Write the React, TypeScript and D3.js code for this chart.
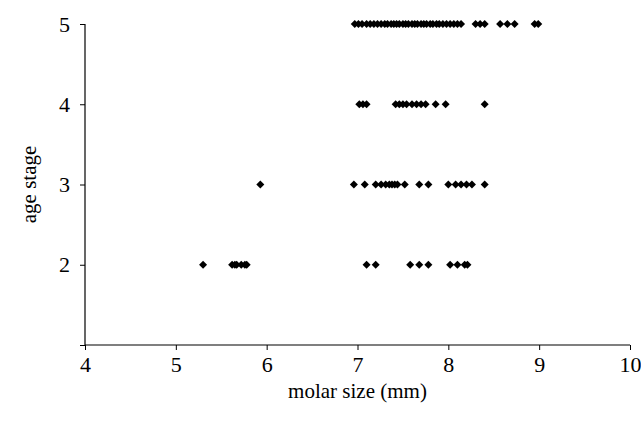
import { useEffect, useRef } from 'react';
import * as d3 from 'd3';

// molar size (mm) per age stage
const stage2 = [5.3, 5.62, 5.65, 5.67, 5.72, 5.76, 5.78, 7.1, 7.2, 7.58, 7.68, 7.78, 8.02, 8.1, 8.18, 8.21];
const stage3 = [5.93, 6.96, 7.08, 7.2, 7.26, 7.31, 7.35, 7.38, 7.41, 7.44, 7.52, 7.68, 7.78, 8.0, 8.08, 8.14, 8.2, 8.26, 8.4];
const stage4 = [7.02, 7.06, 7.1, 7.42, 7.46, 7.5, 7.54, 7.6, 7.65, 7.7, 7.75, 7.86, 7.97, 8.4];
const stage5 = [
  6.97, 7.01, 7.05, 7.1, 7.14, 7.18, 7.22, 7.26, 7.3, 7.33, 7.37, 7.4, 7.43, 7.46, 7.5, 7.53,
  7.56, 7.6, 7.63, 7.66, 7.7, 7.73, 7.76, 7.8, 7.83, 7.87, 7.9, 7.94, 7.98, 8.02, 8.06, 8.1,
  8.14, 8.3, 8.35, 8.4, 8.57, 8.65, 8.73, 8.95, 8.99,
];
const stages = [2, 3, 4, 5];
const series = [stage2, stage3, stage4, stage5];
const xTicks = [4, 5, 6, 7, 8, 9, 10];
const yTicks = [1, 2, 3, 4, 5];

const App = () => {
  const svgRef = useRef<SVGSVGElement>(null);

  useEffect(() => {
    const width = 641;
    const height = 421;
    const margin = { left: 85, right: 11, top: 24, bottom: 76 };

    const svg = d3.select(svgRef.current);
    svg.selectAll('*').remove();
    svg.attr('width', width).attr('height', height);

    const x = d3.scaleLinear().domain([4, 10]).range([margin.left, width - margin.right]);
    const y = d3.scaleLinear().domain([1, 5]).range([height - margin.bottom, margin.top]);

    const font = '"Liberation Serif", "Times New Roman", serif';

    const xAxis = svg.append('g')
      .attr('transform', `translate(0,${y(1)})`)
      .call(d3.axisBottom(x).tickValues(xTicks).tickSize(5).tickPadding(6).tickFormat(d3.format('d')));
    const yAxis = svg.append('g')
      .attr('transform', `translate(${x(4)},0)`)
      .call(d3.axisLeft(y).tickValues(yTicks).tickSize(5).tickPadding(10)
        .tickFormat(d => (d === 1 ? '' : String(d))));

    [xAxis, yAxis].forEach(a => {
      a.attr('font-family', font).attr('font-size', 22);
      a.select('.domain').attr('stroke', '#000').attr('stroke-width', 1.2);
      a.selectAll('.tick line').attr('stroke', '#000');
      a.selectAll('.tick text').attr('fill', '#000');
    });
    xAxis.select('.domain').attr('d', `M${x(4)},0H${x(10)}`);
    yAxis.select('.domain').attr('d', `M0,${y(5)}V${y(1)}`);

    // square turned 45 degrees, as in the spreadsheet marker
    const diamond = d3.symbol().type(d3.symbolSquare).size(32);

    const points = series.flatMap((vals, i) => vals.map(v => ({ v, s: stages[i] })));
    svg.append('g')
      .selectAll('path')
      .data(points)
      .enter()
      .append('path')
      .attr('d', diamond)
      .attr('fill', '#000')
      .attr('transform', d => `translate(${x(d.v)},${y(d.s)}) rotate(45)`);

    svg.append('text')
      .attr('x', (x(4) + x(10)) / 2)
      .attr('y', 398)
      .attr('text-anchor', 'middle')
      .attr('font-family', font)
      .attr('font-size', 21)
      .attr('fill', '#000')
      .text('molar size (mm)');

    svg.append('text')
      .attr('transform', `translate(36,${(y(1) + y(5)) / 2}) rotate(-90)`)
      .attr('text-anchor', 'middle')
      .attr('font-family', font)
      .attr('font-size', 21)
      .attr('fill', '#000')
      .text('age stage');
  }, []);

  return (
    <div style={{ position: 'absolute', left: 0, top: 0, background: '#fff' }}>
      <svg ref={svgRef} style={{ display: 'block' }} />
    </div>
  );
};

export default App;
